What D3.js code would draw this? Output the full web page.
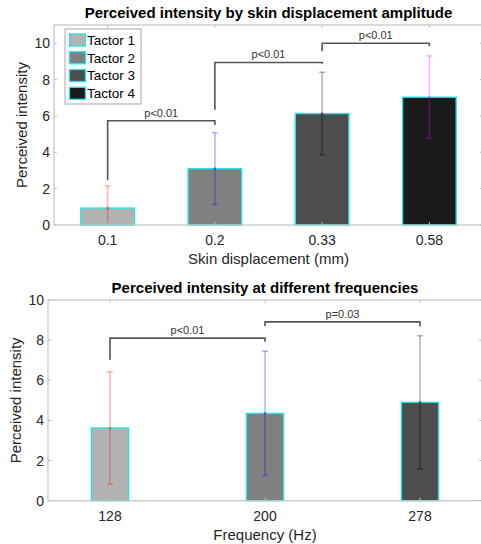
<!DOCTYPE html>
<html>
<head>
<meta charset="utf-8">
<script src="https://cdn.jsdelivr.net/npm/d3@7"></script>
<style>
  body { margin: 0; background: #fff; }
  svg { display: block; font-family: "Liberation Sans", Arial, sans-serif; }
</style>
</head>
<body>
<svg id="chart" width="481" height="544"></svg>
<script>
// ---- data ----
const ampLabels = ['0.1', '0.2', '0.33', '0.58'];
const ampMeans = [0.93, 3.1, 6.13, 7.03];
const ampSd = [1.22, 1.98, 2.27, 2.27];
const ampNames = ['Tactor 1', 'Tactor 2', 'Tactor 3', 'Tactor 4'];
// brackets: [from, to, barY, leftEnd, rightEnd, label]
const ampSig = [
  [1, 2, 5.73, 2.48, 5.5, 'p<0.01'],
  [2, 3, 8.94, 6.34, 8.87, 'p<0.01'],
  [3, 4, 10.0, 9.55, 9.83, 'p<0.01']
];

const freqLabels = ['128', '200', '278'];
const freqMeans = [3.62, 4.35, 4.9];
const freqSd = [2.8, 3.1, 3.32];
const freqSig = [
  [1, 2, 8.1, 7.02, 7.92, 'p<0.01'],
  [2, 3, 8.91, 8.71, 8.68, 'p=0.03']
];

const barColors = ['#b3b3b3', '#808080', '#4d4d4d', '#1a1a1a'];
const errColors = ['#ff0000', '#0000ff', '#000000', '#ff00ff'];

const svg = d3.select('#chart');

// draws one MATLAB-like bar panel
const drawPanel = (opts) => {
  const { left, right, top, bottom, xDomain, yMax, labels, means, sd, sig, barW } = opts;

  const x = d3.scaleLinear().domain(xDomain).range([left, right]);
  const y = d3.scaleLinear().domain([0, yMax]).range([bottom, top]);
  const idx = labels.map((d, i) => i + 1);

  const g = svg.append('g');

  // bars
  g.selectAll('rect.bar')
    .data(means)
    .enter()
    .append('rect')
    .attr('class', 'bar')
    .attr('x', (d, i) => x(i + 1 - barW / 2))
    .attr('y', (d) => y(d))
    .attr('width', (d, i) => x(i + 1 + barW / 2) - x(i + 1 - barW / 2))
    .attr('height', (d) => y(0) - y(d))
    .attr('fill', (d, i) => barColors[i])
    .attr('stroke', '#22e5e5')
    .attr('stroke-width', 1.4);

  // error bars (clipped to axes)
  const clipId = 'clip' + top;
  svg.append('clipPath').attr('id', clipId)
    .append('rect')
    .attr('x', left).attr('y', top)
    .attr('width', right - left).attr('height', bottom - top);

  const eb = g.append('g').attr('clip-path', `url(#${clipId})`);
  means.forEach((m, i) => {
    const cx = x(i + 1);
    const col = errColors[i];
    const e = eb.append('g')
      .attr('stroke', col)
      .attr('stroke-opacity', 0.3)
      .attr('stroke-width', 1.5);
    e.append('line')
      .attr('x1', cx).attr('x2', cx)
      .attr('y1', y(m - sd[i])).attr('y2', y(m + sd[i]));
    [m - sd[i], m + sd[i]].forEach((v) => {
      e.append('line')
        .attr('x1', cx - 3).attr('x2', cx + 3)
        .attr('y1', y(v)).attr('y2', y(v));
    });
    e.append('circle')
      .attr('cx', cx).attr('cy', y(m)).attr('r', 1.3)
      .attr('fill', col).attr('fill-opacity', 0.4).attr('stroke', 'none');
  });

  // axes box
  const axisCol = '#c4c4c4';
  const tickCol = '#bdbdbd';
  g.append('rect')
    .attr('x', left).attr('y', top)
    .attr('width', right - left).attr('height', bottom - top)
    .attr('fill', 'none')
    .attr('stroke', axisCol)
    .attr('stroke-width', 1.2);

  const yTicks = d3.range(0, 10.1, 2);
  const tk = g.append('g').attr('stroke', tickCol).attr('stroke-width', 1);
  yTicks.forEach((t) => {
    tk.append('line').attr('x1', left).attr('x2', left + 3).attr('y1', y(t)).attr('y2', y(t));
    tk.append('line').attr('x1', right).attr('x2', right - 3).attr('y1', y(t)).attr('y2', y(t));
  });
  idx.forEach((t) => {
    tk.append('line').attr('x1', x(t)).attr('x2', x(t)).attr('y1', bottom).attr('y2', bottom - 3);
    tk.append('line').attr('x1', x(t)).attr('x2', x(t)).attr('y1', top).attr('y2', top + 3);
  });

  // tick labels
  g.selectAll('text.ytick')
    .data(yTicks)
    .enter()
    .append('text')
    .attr('class', 'ytick')
    .attr('x', left - 4)
    .attr('y', (d) => y(d))
    .attr('dy', '0.36em')
    .attr('text-anchor', 'end')
    .attr('font-size', 14)
    .attr('fill', '#262626')
    .text((d) => d);

  g.selectAll('text.xtick')
    .data(labels)
    .enter()
    .append('text')
    .attr('class', 'xtick')
    .attr('x', (d, i) => x(i + 1))
    .attr('y', bottom + 20)
    .attr('text-anchor', 'middle')
    .attr('font-size', 14)
    .attr('fill', '#262626')
    .text((d) => d);

  // significance brackets
  const br = g.append('g');
  sig.forEach(([a, b, h, l1, l2, txt]) => {
    br.append('path')
      .attr('d', `M${x(a)},${y(l1)}V${y(h)}H${x(b)}V${y(l2)}`)
      .attr('fill', 'none')
      .attr('stroke', '#555')
      .attr('stroke-width', 1.6);
    br.append('text')
      .attr('x', (x(a) + x(b)) / 2)
      .attr('y', y(h) - 4)
      .attr('text-anchor', 'middle')
      .attr('font-size', 11)
      .attr('fill', '#333')
      .text(txt);
  });

  // title + axis labels
  g.append('text')
    .attr('x', (left + right) / 2)
    .attr('y', opts.titleY)
    .attr('text-anchor', 'middle')
    .attr('font-size', 15)
    .attr('font-weight', 'bold')
    .attr('fill', '#000')
    .text(opts.title);

  g.append('text')
    .attr('x', (left + right) / 2)
    .attr('y', opts.xLabelY)
    .attr('text-anchor', 'middle')
    .attr('font-size', 15)
    .attr('fill', '#262626')
    .text(opts.xLabel);

  g.append('text')
    .attr('transform', `translate(${opts.yLabelX}, ${(top + bottom) / 2}) rotate(-90)`)
    .attr('text-anchor', 'middle')
    .attr('font-size', 15)
    .attr('fill', '#262626')
    .text('Perceived intensity');

  return g;
};

drawPanel({
  left: 54, right: 483, top: 25, bottom: 225,
  xDomain: [0.5, 4.5], yMax: 11, barW: 0.5,
  labels: ampLabels, means: ampMeans, sd: ampSd, sig: ampSig,
  title: 'Perceived intensity by skin displacement amplitude',
  titleY: 18, xLabel: 'Skin displacement (mm)', xLabelY: 264, yLabelX: 27
});

drawPanel({
  left: 48, right: 482, top: 300, bottom: 500.7,
  xDomain: [0.6, 3.4], yMax: 10, barW: 0.24,
  labels: freqLabels, means: freqMeans, sd: freqSd, sig: freqSig,
  title: 'Perceived intensity at different frequencies',
  titleY: 293, xLabel: 'Frequency (Hz)', xLabelY: 540, yLabelX: 21
});

// legend (top panel)
const legend = svg.append('g').attr('id', 'legend');
legend.append('rect')
  .attr('x', 65).attr('y', 29)
  .attr('width', 76).attr('height', 75)
  .attr('fill', '#fff')
  .attr('stroke', '#a6a6a6')
  .attr('stroke-width', 1);

const rowY = d3.scaleLinear().domain([0, 3]).range([40, 93.3]);
legend.selectAll('rect.sw')
  .data(ampNames)
  .enter()
  .append('rect')
  .attr('class', 'sw')
  .attr('x', 69.5)
  .attr('y', (d, i) => rowY(i) - 6)
  .attr('width', 16)
  .attr('height', 12)
  .attr('fill', (d, i) => barColors[i])
  .attr('stroke', '#22e5e5')
  .attr('stroke-width', 1.3);

legend.selectAll('text')
  .data(ampNames)
  .enter()
  .append('text')
  .attr('x', 87)
  .attr('y', (d, i) => rowY(i))
  .attr('dy', '0.36em')
  .attr('font-size', 13.5)
  .attr('fill', '#000')
  .text((d) => d);
</script>
</body>
</html>
